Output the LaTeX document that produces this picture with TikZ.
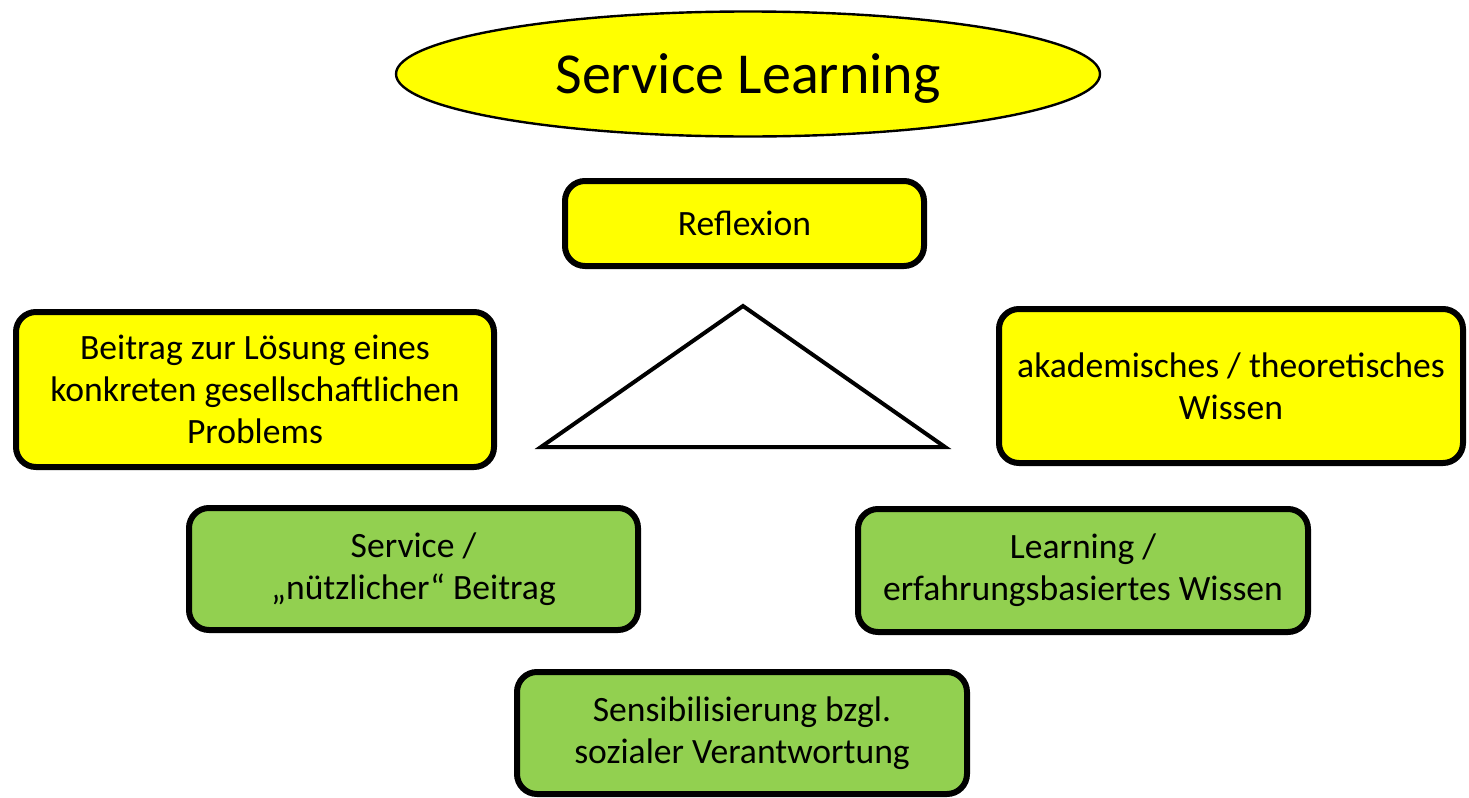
\documentclass[tikz,border=0pt]{standalone}
\usepackage{fontspec}
\setmainfont{Carlito}
\usetikzlibrary{shapes.geometric}

\definecolor{slyellow}{HTML}{FFFF00}
\definecolor{slgreen}{HTML}{92D050}

\begin{document}
\begin{tikzpicture}[x = 0.5pt, y = -0.5pt,
    box/.style = {draw, line width = 3pt, rounded corners = 10pt, align = center,
                  inner sep = 0pt, font = \fontsize{17.8}{21}\selectfont},
    yellowbox/.style = {box, fill = slyellow},
    greenbox/.style = {box, fill = slgreen}]
    \useasboundingbox (0, 0) rectangle (1469, 798);

    % title
    \node [ellipse, draw, line width = 1.2pt, fill = slyellow, inner sep = 0pt,
           minimum width = 352pt, minimum height = 62.5pt, text depth = 0pt,
           font = \fontsize{29}{34}\selectfont] (title) at (748, 74) {Service Learning};

    % yellow row
    \node [yellowbox, minimum width = 179.5pt, minimum height = 42.5pt] (reflexion) at (744.5, 223.5) {Reflexion};
    \node [yellowbox, minimum width = 239pt, minimum height = 77.5pt] (beitrag) at (255, 389.5)
        {Beitrag zur Lösung eines\\konkreten gesellschaftlichen\\Problems};
    \node [yellowbox, minimum width = 232pt, minimum height = 77pt] (wissen) at (1231, 386)
        {akademisches / theoretisches\\Wissen};

    % triangle
    \coordinate (apex) at (743, 306);
    \coordinate (baseL) at (541, 447);
    \coordinate (baseR) at (945, 447);
    \draw [line width = 2pt, line join = miter] (apex) -- (baseR) -- (baseL) -- cycle;

    % green row
    \node [greenbox, minimum width = 224.5pt, minimum height = 61pt] (service) at (413.5, 569)
        {Service /\\„nützlicher“ Beitrag};
    \node [greenbox, minimum width = 225pt, minimum height = 61.5pt] (learning) at (1083, 570.5)
        {Learning /\\erfahrungsbasiertes Wissen};
    \node [greenbox, minimum width = 225pt, minimum height = 61pt] (sensib) at (742, 733)
        {Sensibilisierung bzgl.\\sozialer Verantwortung};
\end{tikzpicture}
\end{document}
